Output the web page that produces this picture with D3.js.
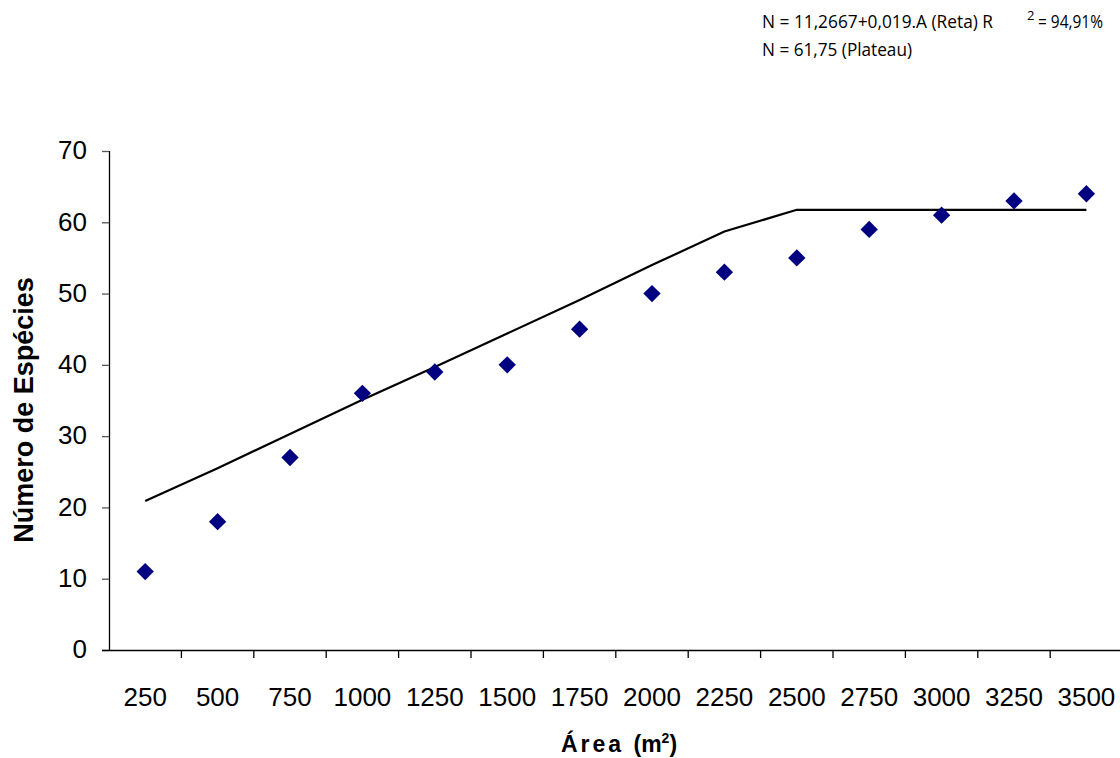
<!DOCTYPE html>
<html>
<head>
<meta charset="utf-8">
<script src="https://cdn.jsdelivr.net/npm/d3@7"></script>
<style>
  html, body { margin: 0; padding: 0; background: #fff; }
  svg { display: block; }
</style>
</head>
<body>
<svg id="chart" width="1120" height="758"></svg>
<script>
const categories = ["250","500","750","1000","1250","1500","1750","2000","2250","2500","2750","3000","3250","3500"];
const observed = [11, 18, 27, 36, 39, 40, 45, 50, 53, 55, 59, 61, 63, 64];
const fitted = [20.9, 25.5, 30.3, 35.1, 39.7, 44.4, 49.1, 54.0, 58.7, 61.75, 61.75, 61.75, 61.75, 61.75];
const yTicks = [0, 10, 20, 30, 40, 50, 60, 70];

(function () {
const svg = d3.select("#chart");
const mLeft = 109, mTop = 151, mBottom = 650, plotRight = 109 + 72.4 * 14;

const x = d3.scaleBand().domain(categories).range([mLeft, plotRight]).paddingInner(0).paddingOuter(0);
const y = d3.scaleLinear().domain([0, 70]).range([mBottom, mTop]);
const cx = d => x(d) + x.bandwidth() / 2;

// Y axis
const yAxis = svg.append("g").attr("transform", `translate(${mLeft},0)`)
  .call(d3.axisLeft(y).tickValues(yTicks).tickSize(7).tickPadding(15));
yAxis.select(".domain").attr("stroke", "#000").attr("stroke-width", 1.3).attr("d", `M0.5,${mTop}V${mBottom}`);
yAxis.selectAll(".tick line").attr("stroke", "#555").attr("stroke-width", 1.3);
yAxis.selectAll(".tick text").attr("font-family", "Liberation Sans, Arial, sans-serif")
  .attr("font-size", 26).attr("fill", "#000").attr("dy", "0.3em");

// X axis
const xAxis = svg.append("g").attr("transform", `translate(0,${mBottom})`)
  .call(d3.axisBottom(x).tickSize(0).tickPadding(38));
xAxis.select(".domain").attr("stroke", "#000").attr("stroke-width", 1.3).attr("d", `M${mLeft - 7},0.5H1120`);
xAxis.selectAll(".tick text").attr("font-family", "Liberation Sans, Arial, sans-serif")
  .attr("font-size", 26).attr("fill", "#000");
// boundary ticks between categories
svg.append("g").selectAll("line").data(categories).join("line")
  .attr("x1", d => x(d) + x.bandwidth()).attr("x2", d => x(d) + x.bandwidth())
  .attr("y1", mBottom).attr("y2", mBottom + 8)
  .attr("stroke", "#000").attr("stroke-width", 1.3);

// Fitted line (reta + plateau)
const line = d3.line().x((d, i) => cx(categories[i])).y(d => y(d));
svg.append("path").datum(fitted).attr("d", line)
  .attr("fill", "none").attr("stroke", "#000").attr("stroke-width", 2.2);

// Observed points (diamonds)
const sym = d3.symbol().type(d3.symbolSquare).size(150);
svg.append("g").selectAll("path").data(observed).join("path")
  .attr("d", sym)
  .attr("transform", (d, i) => `translate(${cx(categories[i])},${y(d)}) rotate(45)`)
  .attr("fill", "#000080");

// Axis titles
svg.append("text")
  .attr("transform", `translate(33,410) rotate(-90)`)
  .attr("text-anchor", "middle")
  .attr("font-family", "Liberation Sans, Arial, sans-serif")
  .attr("font-weight", "bold").attr("font-size", 27)
  .attr("fill", "#000")
  .text("Número de Espécies");

const xt = svg.append("text")
  .attr("x", 619).attr("y", 752)
  .attr("text-anchor", "middle")
  .attr("font-family", "Liberation Sans, Arial, sans-serif")
  .attr("font-weight", "bold").attr("font-size", 23)
  .attr("fill", "#000");
xt.append("tspan").attr("letter-spacing", 3).text("Área ");
xt.append("tspan").text("(m");
xt.append("tspan").attr("font-size", 14).attr("dy", -9).text("2");
xt.append("tspan").attr("dy", 9).text(")");

// Annotation
const annFont = "Liberation Sans Narrow, Open Sans, sans-serif";
svg.append("text").attr("x", 762).attr("y", 28)
  .attr("font-family", annFont).attr("font-size", 18).attr("fill", "#000")
  .attr("textLength", 231).attr("lengthAdjust", "spacingAndGlyphs")
  .text("N = 11,2667+0,019.A (Reta) R");
svg.append("text").attr("x", 1027).attr("y", 20)
  .attr("font-family", annFont).attr("font-size", 13).attr("fill", "#000")
  .text("2");
svg.append("text").attr("x", 1038).attr("y", 28)
  .attr("font-family", annFont).attr("font-size", 18).attr("fill", "#000")
  .attr("textLength", 65).attr("lengthAdjust", "spacingAndGlyphs")
  .text("= 94,91%");
svg.append("text").attr("x", 762).attr("y", 56)
  .attr("font-family", annFont).attr("font-size", 18).attr("fill", "#000")
  .attr("textLength", 150).attr("lengthAdjust", "spacingAndGlyphs")
  .text("N = 61,75 (Plateau)");
})();
</script>
</body>
</html>
